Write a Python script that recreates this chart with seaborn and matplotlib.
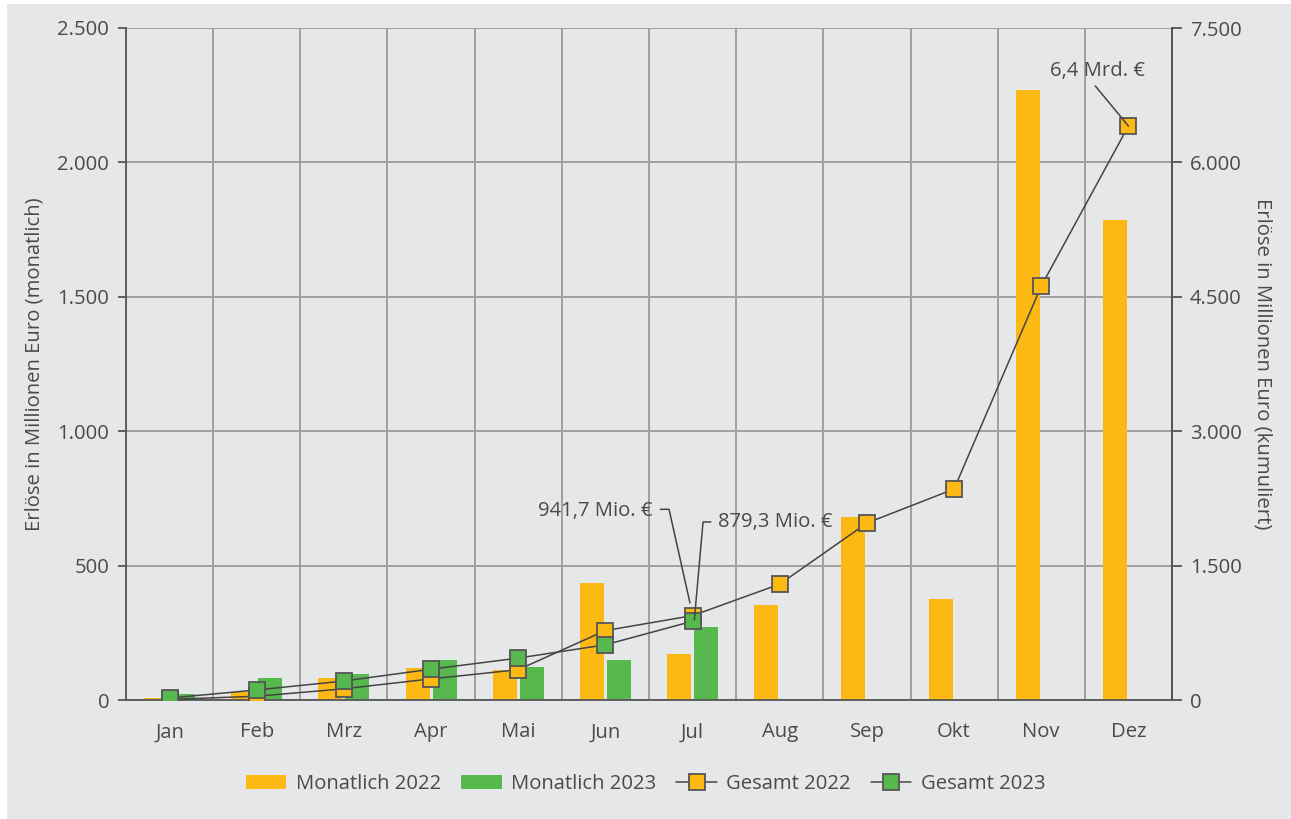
import matplotlib
matplotlib.use("Agg")
import numpy as np
import pandas as pd
import seaborn as sns
import matplotlib.pyplot as plt
from matplotlib.patches import Patch, Rectangle
from matplotlib.lines import Line2D
from matplotlib.ticker import FuncFormatter

# ---------------- data ----------------
months = ["Jan", "Feb", "Mrz", "Apr", "Mai", "Jun", "Jul", "Aug", "Sep", "Okt", "Nov", "Dez"]
monthly_2022 = [7, 28, 82, 118, 110, 436, 172, 352, 680, 375, 2268, 1786]
monthly_2023 = [22, 80, 98, 147, 124, 147, 272]
total_2022 = [7, 42, 125, 236, 338, 775, 941.7, 1293, 1975, 2355, 4620, 6406]
total_2023 = [22, 112, 212, 344, 468, 616, 879.3]
series_names = ["Monatlich 2022", "Monatlich 2023", "Gesamt 2022", "Gesamt 2023"]
left_ticks = [0, 500, 1000, 1500, 2000, 2500]
right_ticks = [0, 1500, 3000, 4500, 6000, 7500]

# ---------------- style ----------------
BG = "#E6E7E9"
ORANGE = "#FDB913"
GREEN = "#56B84D"
GRID = "#A0A0A0"
SPINE = "#555555"
TXT = "#4A4A4A"
LINE = "#444444"
FS = 14.6

sns.set_theme(style="whitegrid")
plt.rcParams["font.family"] = ["Open Sans", "DejaVu Sans"]
plt.rcParams["text.color"] = TXT
plt.rcParams["axes.labelcolor"] = TXT

W, H = 1291, 819
fig = plt.figure(figsize=(W / 100, H / 100), dpi=100, facecolor="white")
fig.patches.append(Rectangle((7 / W, 0), 1 - 7 / W, 1 - 4 / H, transform=fig.transFigure,
                             facecolor=BG, edgecolor="none", zorder=-10))

ax = fig.add_axes([126 / W, 119 / H, 1046 / W, 672 / H])
ax.set_facecolor(BG)
ax.set_axisbelow(True)

df = pd.DataFrame({
    "Monat": months + months[:len(monthly_2023)],
    "Serie": [series_names[0]] * len(monthly_2022) + [series_names[1]] * len(monthly_2023),
    "Wert": monthly_2022 + monthly_2023,
})
sns.barplot(data=df, x="Monat", y="Wert", hue="Serie", order=months,
            hue_order=series_names[:2], palette=[ORANGE, GREEN], saturation=1,
            width=0.62, gap=0.11, linewidth=0, legend=False, ax=ax, zorder=2)

ax.set_xlim(-0.5, len(months) - 0.5)
ax.set_ylim(0, 2500)
ax.set_yticks(left_ticks)
fmt = FuncFormatter(lambda v, p: f"{int(v):,}".replace(",", "."))
ax.yaxis.set_major_formatter(fmt)
ax.set_xticks(range(len(months)))
ax.set_xticklabels(months)
ax.set_xticks(np.arange(-0.5, len(months) + 0.5, 1), minor=True)
ax.set_xlabel("")
ax.set_ylabel("Erlöse in Millionen Euro (monatlich)", fontsize=FS, labelpad=9)

ax.grid(False)
ax.grid(which="minor", axis="x", color=GRID, lw=1.4)
ax.grid(which="major", axis="y", color=GRID, lw=1.4)

ax.tick_params(axis="x", which="major", length=0, pad=16, labelsize=FS, labelcolor=TXT)
ax.tick_params(axis="x", which="minor", length=8, width=1.3, color=SPINE, direction="out")
ax.tick_params(axis="y", which="major", length=6, width=1.3, color=SPINE, direction="out",
               pad=6, labelsize=FS, labelcolor=TXT)

ax.spines["top"].set_visible(False)
for s in ["left", "bottom", "right"]:
    ax.spines[s].set_color(SPINE)
    ax.spines[s].set_linewidth(1.3)

# ---------------- cumulative (right axis) ----------------
ax2 = ax.twinx()
ax2.set_ylim(0, 7500)
ax2.set_yticks(right_ticks)
ax2.yaxis.set_major_formatter(fmt)
ax2.grid(False)
ax2.tick_params(axis="y", which="major", length=7, width=1.3, color=SPINE, direction="out",
                pad=6, labelsize=FS, labelcolor=TXT)
for s in ["top", "left", "bottom"]:
    ax2.spines[s].set_visible(False)
ax2.spines["right"].set_color(SPINE)
ax2.spines["right"].set_linewidth(1.3)
ax2.set_ylabel("Erlöse in Millionen Euro (kumuliert)", fontsize=FS, rotation=270, labelpad=22)

x22 = np.arange(len(total_2022))
x23 = np.arange(len(total_2023))
sns.lineplot(x=x22, y=total_2022, ax=ax2, color=LINE, lw=1.1, marker="s", markersize=11,
             markerfacecolor=ORANGE, markeredgecolor=SPINE, markeredgewidth=1.3, zorder=3)
sns.lineplot(x=x23, y=total_2023, ax=ax2, color=LINE, lw=1.1, marker="s", markersize=11,
             markerfacecolor=GREEN, markeredgecolor=SPINE, markeredgewidth=1.3, zorder=4)

# ---------------- annotations ----------------
ax2.text(5.54, 2110, "941,7 Mio. €", ha="right", va="center", fontsize=FS, color=TXT, zorder=6)
ax2.plot([5.63, 5.73, 5.97], [2128, 2128, 1083], color=LINE, lw=1.1, zorder=6)
ax2.text(6.29, 1987, "879,3 Mio. €", ha="left", va="center", fontsize=FS, color=TXT, zorder=6)
ax2.plot([6.21, 6.12, 6.02], [1987, 1987, 893], color=LINE, lw=1.1, zorder=6)
ax2.text(10.65, 7020, "6,4 Mrd. €", ha="center", va="center", fontsize=FS, color=TXT, zorder=6)
ax2.plot([10.62, 11.0], [6853, 6406], color=LINE, lw=1.1, zorder=6)

# ---------------- legend ----------------
handles = [
    Patch(facecolor=ORANGE, edgecolor="none"),
    Patch(facecolor=GREEN, edgecolor="none"),
    Line2D([], [], color=LINE, lw=1.1, marker="s", markersize=11, markerfacecolor=ORANGE,
           markeredgecolor=SPINE, markeredgewidth=1.3),
    Line2D([], [], color=LINE, lw=1.1, marker="s", markersize=11, markerfacecolor=GREEN,
           markeredgecolor=SPINE, markeredgewidth=1.3),
]
leg = fig.legend(handles, series_names, loc="center", bbox_to_anchor=(0.5, 35 / H), ncol=4,
                 frameon=False, fontsize=FS, handlelength=2.0, handleheight=0.7,
                 handletextpad=0.45, columnspacing=1.0)
for t in leg.get_texts():
    t.set_color(TXT)

fig.savefig("out.png", dpi=100, facecolor=fig.get_facecolor())
